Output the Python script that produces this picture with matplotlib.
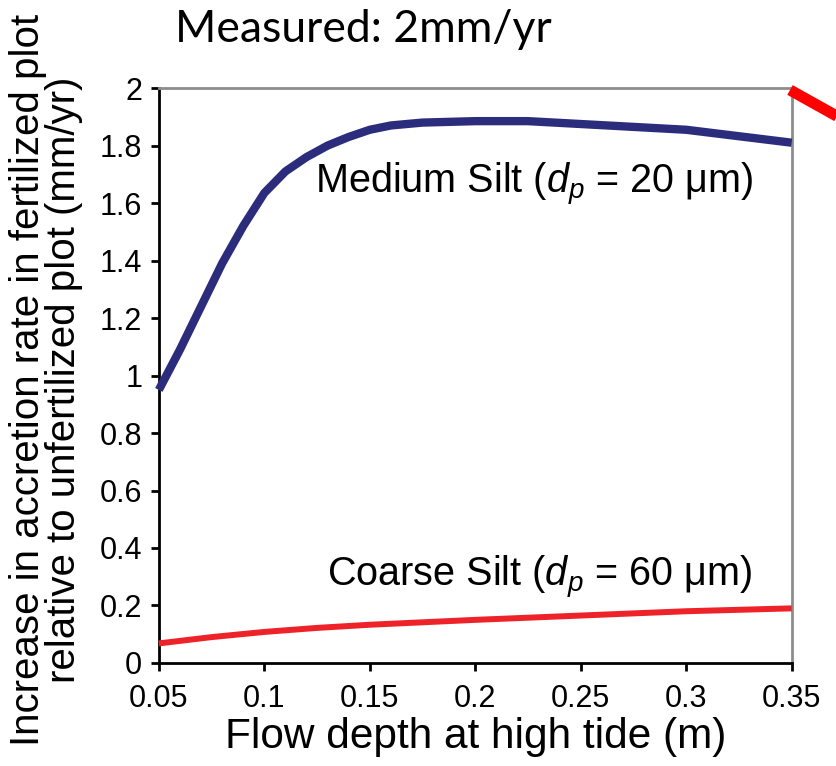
import numpy as np
import matplotlib
matplotlib.use("Agg")
import matplotlib.pyplot as plt
from matplotlib.lines import Line2D

# ---------------------------------------------------------------
# Data
# ---------------------------------------------------------------
depth_medium = [0.05, 0.06, 0.07, 0.08, 0.09, 0.10, 0.11, 0.12, 0.13, 0.14,
                0.15, 0.16, 0.175, 0.20, 0.225, 0.25, 0.30, 0.35]
rate_medium  = [0.95, 1.09, 1.24, 1.39, 1.52, 1.635, 1.71, 1.76, 1.80, 1.83,
                1.855, 1.87, 1.88, 1.885, 1.885, 1.875, 1.855, 1.81]

depth_coarse = [0.05, 0.075, 0.10, 0.125, 0.15, 0.20, 0.25, 0.30, 0.35]
rate_coarse  = [0.068, 0.09, 0.108, 0.122, 0.133, 0.15, 0.165, 0.18, 0.19]

xticks = [0.05, 0.1, 0.15, 0.2, 0.25, 0.3, 0.35]
xtick_labels = ['0.05', '0.1', '0.15', '0.2', '0.25', '0.3', '0.35']
yticks = [0, 0.2, 0.4, 0.6, 0.8, 1, 1.2, 1.4, 1.6, 1.8, 2]
ytick_labels = ['0', '0.2', '0.4', '0.6', '0.8', '1', '1.2', '1.4', '1.6', '1.8', '2']

plt.rcParams['font.family'] = ['Liberation Sans', 'DejaVu Sans']
plt.rcParams['mathtext.fontset'] = 'custom'
plt.rcParams['mathtext.it'] = 'Liberation Sans:italic'
plt.rcParams['mathtext.rm'] = 'Liberation Sans'

fig = plt.figure(figsize=(8.36, 7.66), dpi=100)
ax = fig.add_axes([0.190, 0.1345, 0.757, 0.7505])

ax.plot(depth_medium, rate_medium, '-', color='#2b2d7c', lw=6,
        solid_capstyle='butt', clip_on=False, zorder=3)
ax.plot(depth_coarse, rate_coarse, '-', color='#ee2229', lw=4.3,
        solid_capstyle='butt', clip_on=False, zorder=3)

ax.set_xlim(0.05, 0.35)
ax.set_ylim(0, 2)
ax.set_xticks(xticks)
ax.set_xticklabels(xtick_labels, fontsize=22)
ax.set_yticks(yticks)
ax.set_yticklabels(ytick_labels, fontsize=22)
ax.tick_params(axis='both', direction='out', length=6, width=2, color='black')
ax.tick_params(axis='x', pad=9)
ax.tick_params(axis='y', pad=6)

for side in ['left', 'bottom']:
    ax.spines[side].set_color('black')
    ax.spines[side].set_linewidth(2)
for side in ['top', 'right']:
    ax.spines[side].set_color('#8c8c8c')
    ax.spines[side].set_linewidth(2)

ax.text(0.124, 1.665, 'Medium Silt ($d_p$ = 20 \u03bcm)', fontsize=28.5,
        ha='left', va='center')
ax.text(0.1296, 0.296, 'Coarse Silt ($d_p$ = 60 \u03bcm)', fontsize=28.5,
        ha='left', va='center')

ax.set_xlabel('Flow depth at high tide (m)', fontsize=30.5, labelpad=2)
fig.text(0.055, 0.504,
         'Increase in accretion rate in fertilized plot\nrelative to unfertilized plot (mm/yr)',
         rotation=90, ha='center', va='center', multialignment='center',
         fontsize=29, linespacing=0.95)

fig.text(0.209, 0.961, 'Measured: 2mm/yr', fontsize=32, family=['Lato', 'DejaVu Sans'],
         ha='left', va='center')

# red pointer line running off the right edge
fig.add_artist(Line2D([790 / 836, 1.02], [1 - 90 / 766, 1 - 125 / 766],
                      color='#ff0000', lw=8, transform=fig.transFigure,
                      solid_capstyle='butt'))

fig.savefig('out.png', dpi=100)
